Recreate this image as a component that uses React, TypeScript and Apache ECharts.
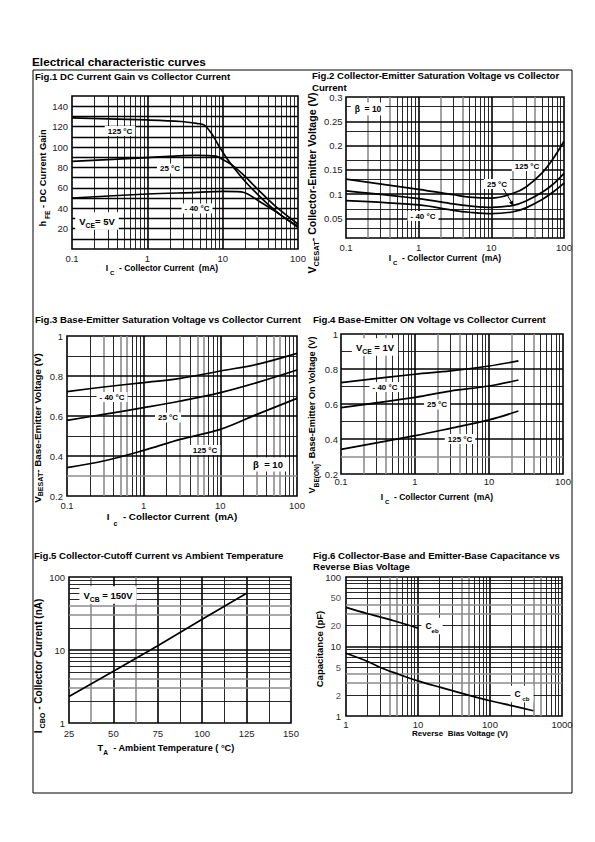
import { useEffect, useRef } from 'react';
import * as echarts from 'echarts';

const FONT = '"Liberation Sans", Arial, Helvetica, sans-serif';

// ---------- Fig.1 DC current gain (hFE) vs collector current (mA) ----------
const fig1X125 = [0.1, 1, 2.8, 4.6, 5.7, 7.3, 9, 11.7, 15.8, 21.5, 36, 60, 100];
const fig1Y125 = [128.5, 126.5, 125, 123, 121.5, 112, 100.5, 87.5, 75, 63.5, 47, 33, 22.5];
const fig1X25 = [0.1, 1, 4.6, 8.1, 10, 13, 19.5, 29, 49, 100];
const fig1Y25 = [86, 89.5, 91.8, 91, 87.7, 82.9, 71.6, 58.7, 42.6, 24.5];
const fig1XM40 = [0.1, 1, 4.6, 10, 17.6, 21.5, 32, 54, 100];
const fig1YM40 = [50, 53.9, 55.5, 56.5, 56.1, 53.9, 45.8, 35.2, 21];

// ---------- Fig.2 VCE(sat) (V) vs collector current (mA) ----------
const fig2X = [0.1, 1, 3, 5, 10, 20, 30, 50, 70, 100];
const fig2Y125 = [0.131, 0.11, 0.099, 0.094, 0.092, 0.102, 0.115, 0.144, 0.172, 0.209];
const fig2Y25 = [0.107, 0.091, 0.08, 0.076, 0.073, 0.077, 0.086, 0.104, 0.12, 0.143];
const fig2YM40 = [0.087, 0.078, 0.067, 0.063, 0.06, 0.064, 0.072, 0.089, 0.104, 0.123];

// ---------- Fig.3 VBE(sat) (V) vs collector current (mA) ----------
const fig3X = [0.1, 0.3, 1, 3, 10, 30, 100];
const fig3YM40 = [0.722, 0.745, 0.767, 0.788, 0.825, 0.858, 0.913];
const fig3Y25 = [0.578, 0.608, 0.642, 0.675, 0.717, 0.767, 0.83];
const fig3Y125 = [0.342, 0.375, 0.428, 0.483, 0.533, 0.608, 0.688];

// ---------- Fig.4 VBE(on) (V) vs collector current (mA) ----------
const fig4X = [0.1, 1, 3, 10, 25];
const fig4YM40 = [0.722, 0.77, 0.789, 0.817, 0.846];
const fig4Y25 = [0.579, 0.638, 0.674, 0.703, 0.737];
const fig4Y125 = [0.341, 0.419, 0.461, 0.509, 0.56];

// ---------- Fig.5 ICBO (nA) vs ambient temperature (°C) ----------
const fig5Temp = [25, 50, 75, 100, 125];
const fig5Icbo = [2.3, 5.1, 11.4, 26.4, 60];

// ---------- Fig.6 capacitance (pF) vs reverse bias voltage (V) ----------
const fig6XCeb = [1, 2, 3, 5, 10];
const fig6YCeb = [36.5, 29.6, 26.5, 22.9, 18.4];
const fig6XCcb = [1, 2, 3, 5, 10, 20, 50, 100, 200, 400];
const fig6YCcb = [8.0, 6.1, 5.0, 4.1, 3.2, 2.6, 2.0, 1.66, 1.41, 1.19];
const fig6ExtraYLabels = [2, 5, 20, 50];

// ---------- axis ranges ----------
const logRangeCurrent = [0.1, 100];
const fig1YRange = [0, 150];
const fig2YRange = [0.01, 0.3];
const vbeYRange = [0.2, 1];
const fig5XRange = [25, 150];
const fig5YRange = [1, 100];
const fig6XRange = [1, 1000];
const fig6YRange = [1, 100];

const MAJOR = { color: '#000', width: 1.6, type: 'solid' };
const MINOR = { color: '#111', width: 0.9, type: 'solid' };
const GRAY = { color: '#8c8c8c', width: 1.6, type: 'solid' };

const zip = (xs: number[], ys: number[]) => xs.map((x, i) => [x, ys[i]]);
const fmtNum = (v: number) => String(parseFloat(Number(v).toPrecision(6)));

type L = { v: number; s: any };
function logLines(decades: number[], grayKs: number[], majors: number[] = []): L[] {
  const out: L[] = [];
  decades.forEach((d) => {
    for (let k = 2; k <= 9; k++) out.push({ v: k * d, s: grayKs.includes(k) ? GRAY : MINOR });
  });
  majors.forEach((m) => out.push({ v: m, s: MAJOR }));
  return out;
}
function linLines(values: number[], style: any): L[] {
  return values.map((v) => ({ v, s: style }));
}

function gridSeries(idx: number, xl: L[], yl: L[]) {
  return {
    type: 'line',
    xAxisIndex: idx,
    yAxisIndex: idx,
    data: [],
    silent: true,
    z: 1,
    markLine: {
      silent: true,
      z: 1,
      symbol: ['none', 'none'],
      label: { show: false },
      emphasis: { disabled: true },
      lineStyle: MINOR,
      data: [
        ...xl.map((l) => ({ xAxis: l.v, lineStyle: l.s })),
        ...yl.map((l) => ({ yAxis: l.v, lineStyle: l.s })),
      ],
    },
  };
}

function curve(idx: number, xs: number[], ys: number[], smooth: number | boolean = 0.35) {
  return {
    type: 'line',
    xAxisIndex: idx,
    yAxisIndex: idx,
    data: zip(xs, ys),
    smooth,
    symbol: 'none',
    silent: true,
    z: 3,
    lineStyle: { color: '#000', width: 1.7 },
  };
}

const tickLabel = (margin: number, formatter: any) => ({
  margin,
  fontSize: 9.5,
  color: '#222',
  fontFamily: FONT,
  formatter,
});
const hidden = {
  axisLine: { show: false },
  axisTick: { show: false },
  splitLine: { show: false },
};

const sub = (size: number, lh: number = size + 6) => ({
  b: { fontSize: size, fontWeight: 'bold', fontFamily: FONT, fill: '#000', lineHeight: lh },
  s: { fontSize: Math.round(size * 0.72 * 10) / 10, fontWeight: 'bold', fontFamily: FONT, fill: '#000', verticalAlign: 'bottom' },
});

function text(x: number, y: number, t: string, size: number, o: any = {}) {
  const align = o.align || 'center';
  return {
    type: 'text',
    x,
    y,
    z: 50,
    rotation: o.rot || 0,
    silent: true,
    style: {
      text: t,
      fill: '#000',
      fontSize: size,
      fontWeight: o.weight || 'bold',
      fontFamily: FONT,
      textAlign: align,
      align,
      textVerticalAlign: 'middle',
      verticalAlign: 'middle',
      backgroundColor: o.bg,
      padding: o.pad,
      rich: o.rich,
    },
  };
}
const ann = (x: number, y: number, t: string) =>
  text(x, y, t, 8, { bg: '#fff', pad: [1, 3, 1, 3] });

const ROT = Math.PI / 2;
const TITLE = 9.6;

export default function App() {
  const ref = useRef<HTMLDivElement>(null);
  useEffect(() => {
    if (!ref.current) return;
    const chart = echarts.init(ref.current, undefined, { renderer: 'svg' });

    const grids = [
      { left: 72, top: 96, width: 226, height: 153 },
      { left: 346, top: 97, width: 218, height: 141 },
      { left: 67, top: 336, width: 230, height: 160 },
      { left: 341, top: 334, width: 222, height: 140 },
      { left: 69, top: 577, width: 222, height: 146 },
      { left: 346, top: 577, width: 216, height: 139 },
    ].map((g) => ({ ...g, show: true, borderColor: '#000', borderWidth: 1.6, backgroundColor: 'transparent' }));

    const logCurX = (idx: number, margin: number) => ({
      gridIndex: idx,
      type: 'log',
      logBase: 10,
      min: logRangeCurrent[0],
      max: logRangeCurrent[1],
      ...hidden,
      axisLabel: tickLabel(margin, (v: number) => fmtNum(v)),
    });
    const vbeY = (idx: number, margin: number) => ({
      gridIndex: idx,
      type: 'value',
      min: vbeYRange[0],
      max: vbeYRange[1],
      interval: 0.1,
      ...hidden,
      axisLabel: tickLabel(margin, (v: number) => {
        const r = Math.round(v * 10);
        return r % 2 === 0 ? String(r / 10) : '';
      }),
    });

    const xAxis = [
      logCurX(0, 4),
      logCurX(1, 4),
      logCurX(2, 4),
      logCurX(3, 2),
      {
        gridIndex: 4,
        type: 'value',
        min: fig5XRange[0],
        max: fig5XRange[1],
        interval: 25,
        ...hidden,
        axisLabel: tickLabel(5, (v: number) => fmtNum(v)),
      },
      {
        gridIndex: 5,
        type: 'log',
        logBase: 10,
        min: fig6XRange[0],
        max: fig6XRange[1],
        ...hidden,
        axisLabel: tickLabel(3, (v: number) => fmtNum(v)),
      },
    ];
    const yAxis = [
      {
        gridIndex: 0,
        type: 'value',
        min: fig1YRange[0],
        max: fig1YRange[1],
        interval: 10,
        ...hidden,
        axisLabel: tickLabel(4, (v: number) => (v > 0 && v % 20 === 0 ? String(v) : '')),
      },
      {
        gridIndex: 1,
        type: 'value',
        min: fig2YRange[0],
        max: fig2YRange[1],
        interval: 0.01,
        ...hidden,
        axisLabel: tickLabel(3.5, (v: number) => {
          const r = Math.round(v * 100);
          return r % 5 === 0 ? String(r / 100) : '';
        }),
      },
      vbeY(2, 4),
      vbeY(3, 3),
      {
        gridIndex: 4,
        type: 'log',
        logBase: 10,
        min: fig5YRange[0],
        max: fig5YRange[1],
        ...hidden,
        axisLabel: tickLabel(4, (v: number) => fmtNum(v)),
      },
      {
        gridIndex: 5,
        type: 'log',
        logBase: 10,
        min: fig6YRange[0],
        max: fig6YRange[1],
        ...hidden,
        axisLabel: tickLabel(5, (v: number) => fmtNum(v)),
      },
    ];

    const series: any[] = [
      // grids
      gridSeries(
        0,
        logLines([0.1, 1, 10], [], [1, 10]),
        linLines([10, 20, 30, 40, 50, 60, 70, 80, 90, 100, 110, 120, 130, 140], { color: '#000', width: 1.3, type: 'solid' })
      ),
      gridSeries(
        1,
        logLines([0.1, 1, 10], [2, 4], [1, 10]),
        [
          ...linLines([0.05, 0.1, 0.15, 0.2, 0.25], MAJOR),
          ...linLines([0.025, 0.075, 0.125, 0.175, 0.225, 0.275], MINOR),
        ]
      ),
      gridSeries(
        2,
        logLines([0.1, 1, 10], [3, 5, 6], [1, 10]),
        [...linLines([0.4, 0.6, 0.8], MAJOR), ...linLines([0.5, 0.7, 0.9], MINOR), ...linLines([0.3], GRAY)]
      ),
      gridSeries(
        3,
        logLines([0.1, 1, 10], [2, 4], [1, 10]),
        [...linLines([0.4, 0.6, 0.8], MAJOR), ...linLines([0.5, 0.7, 0.9], MINOR), ...linLines([0.3], GRAY)]
      ),
      gridSeries(
        4,
        [...linLines([50, 75, 100, 125], MAJOR), ...linLines([87.5, 112.5, 137.5], MINOR), ...linLines([37.5, 62.5], GRAY)],
        logLines([1, 10], [3, 4], [10])
      ),
      gridSeries(5, logLines([1, 10, 100], [4, 5], [10, 100]), logLines([1, 10], [3, 4], [10])),
      // curves
      curve(0, fig1X125, fig1Y125),
      curve(0, fig1X25, fig1Y25),
      curve(0, fig1XM40, fig1YM40),
      curve(1, fig2X, fig2Y125),
      curve(1, fig2X, fig2Y25),
      curve(1, fig2X, fig2YM40),
      curve(2, fig3X, fig3YM40),
      curve(2, fig3X, fig3Y25),
      curve(2, fig3X, fig3Y125),
      curve(3, fig4X, fig4YM40),
      curve(3, fig4X, fig4Y25),
      curve(3, fig4X, fig4Y125),
      curve(4, fig5Temp, fig5Icbo, false),
      curve(5, fig6XCeb, fig6YCeb),
      curve(5, fig6XCcb, fig6YCcb),
      // extra y tick labels for Fig.6 log axis
      {
        type: 'scatter',
        xAxisIndex: 5,
        yAxisIndex: 5,
        data: fig6ExtraYLabels.map((v) => [fig6XRange[0], v]),
        symbolSize: 0,
        silent: true,
        clip: false,
        label: {
          show: true,
          position: 'left',
          distance: 5,
          fontSize: 9.5,
          color: '#222',
          fontFamily: FONT,
          formatter: (p: any) => fmtNum(p.value[1]),
        },
      },
    ];

    const r85 = sub(8.5);
    const graphic: any[] = [
      {
        type: 'rect',
        shape: { x: 33, y: 70, width: 539, height: 723 },
        style: { fill: 'none', stroke: '#000', lineWidth: 1 },
        silent: true,
        z: 0,
      },
      text(32, 62, 'Electrical characteristic curves', 11.8, { align: 'left' }),
      // titles
      text(35, 76, 'Fig.1 DC Current Gain vs Collector Current', TITLE, { align: 'left' }),
      text(312, 75.5, 'Fig.2 Collector-Emitter Saturation Voltage vs Collector', TITLE, { align: 'left' }),
      text(312, 87, 'Current', TITLE, { align: 'left' }),
      text(35, 319, 'Fig.3 Base-Emitter Saturation Voltage vs Collector Current', TITLE, { align: 'left' }),
      text(313, 319, 'Fig.4 Base-Emitter ON Voltage vs Collector Current', TITLE, { align: 'left' }),
      text(34, 555, 'Fig.5 Collector-Cutoff Current vs Ambient Temperature', TITLE, { align: 'left' }),
      text(313, 555, 'Fig.6 Collector-Base and Emitter-Base Capacitance vs', TITLE, { align: 'left' }),
      text(313, 566.5, 'Reverse Bias Voltage', TITLE, { align: 'left' }),
      // axis names
      text(43, 178, '{b|h}{s| FE}{b| - DC Current Gain}', 9.3, { rot: ROT, rich: sub(9.3) }),
      text(162, 268, '{b|I}{s| C}{b|  - Collector Current  (mA)}', 8.5, { rich: r85 }),
      text(312, 183, '{b|V}{s|CESAT}{b|- Collector-Emitter Voltage (V)}', 10.5, { rot: ROT, rich: sub(10.5) }),
      text(445, 258, '{b|I}{s| C}{b|  - Collector Current  (mA)}', 8.5, { rich: r85 }),
      text(37, 428, '{b|V}{s|BESAT}{b|- Base-Emitter Voltage (V)}', 9.8, { rot: ROT, rich: sub(9.8) }),
      text(172, 516, '{b|I}{s|  c}{b|  - Collector Current  (mA)}', 9.8, { rich: sub(9.8, 22) }),
      text(312, 415, '{b|V}{s|BE(ON)}{b|- Base-Emitter On Voltage (V)}', 9.2, { rot: ROT, rich: sub(9.2) }),
      text(437, 497, '{b|I}{s| C}{b|  - Collector Current  (mA)}', 8.5, { rich: r85 }),
      text(38, 666, '{b|I}{s| CBO}{b| - Collector Current (nA)}', 10, { rot: ROT, rich: sub(10) }),
      text(166, 748, '{b|T}{s|A}{b|  - Ambient Temperature ( °C)}', 9.2, { rich: sub(9.2) }),
      text(319, 649, 'Capacitance (pF)', 9.5, { rot: ROT }),
      text(460, 733, 'Reverse  Bias Voltage (V)', 8, {}),
      // annotations
      ann(120, 131, '125 °C'),
      ann(170, 168.5, '25 °C'),
      ann(197, 208.5, '- 40 °C'),
      text(97, 221, '{b|V}{s|CE}{b|= 5V}', 9.5, { bg: '#fff', pad: [1, 4, 1, 4], rich: sub(9.5) }),
      text(368, 109, 'β  = 10', 8.5, { bg: '#fff', pad: [2, 4, 2, 4] }),
      ann(527, 166, '125 °C'),
      ann(497, 184, '25 °C'),
      ann(423, 216, '- 40 °C'),
      {
        type: 'line',
        shape: { x1: 503.5, y1: 189, x2: 512, y2: 203 },
        style: { stroke: '#000', lineWidth: 1 },
        z: 40,
        silent: true,
      },
      {
        type: 'polygon',
        shape: { points: [[513.5, 206], [509.0, 202.8], [512.8, 200.6]] },
        style: { fill: '#000' },
        z: 40,
        silent: true,
      },
      ann(112, 397, '- 40 °C'),
      ann(168, 417.5, '25 °C'),
      ann(205, 450, '125 °C'),
      text(268, 464.5, 'β  = 10', 9.5, { bg: '#fff', pad: [2, 5, 2, 5] }),
      text(375, 347, '{b|V}{s|CE}{b| = 1V}', 9.5, { bg: '#fff', pad: [1, 4, 1, 4], rich: sub(9.5) }),
      ann(385, 387, '- 40 °C'),
      ann(437, 404.5, '25 °C'),
      ann(460, 439, '125 °C'),
      text(108, 595, '{b|V}{s|CB}{b| = 150V}', 9.5, { bg: '#fff', pad: [1, 4, 1, 4], rich: sub(9.5) }),
      text(432, 626, '{b|C}{s|eb}', 8.5, { bg: '#fff', pad: [1, 4, 1, 4], rich: r85 }),
      text(522, 694, '{b|C}{s| cb}', 8.5, { bg: '#fff', pad: [1, 4, 1, 4], rich: r85 }),
    ];

    chart.setOption({
      animation: false,
      grid: grids,
      xAxis,
      yAxis,
      series,
      graphic,
    });
    return () => chart.dispose();
  }, []);

  return (
    <div
      ref={ref}
      style={{ position: 'absolute', left: 0, top: 0, width: 595, height: 842, background: '#fff' }}
    />
  );
}
